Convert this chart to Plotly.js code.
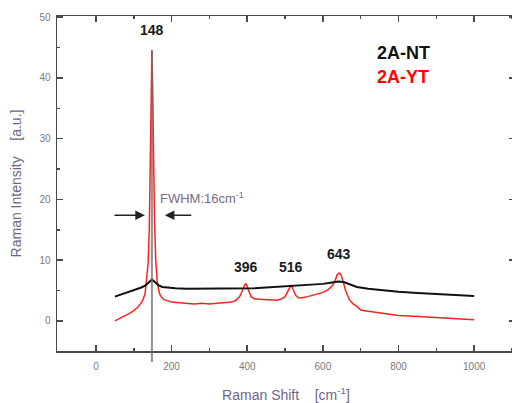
<!DOCTYPE html>
<html>
<head>
<meta charset="utf-8">
<script src="https://cdn.plot.ly/plotly-3.0.1.min.js"></script>
<style>
html,body{margin:0;padding:0;width:512px;height:403px;overflow:hidden;background:#fff;}
#chart{width:522px;height:403px;}
</style>
</head>
<body>
<div id="chart"></div>
<script>
// 2A-NT (black)
const ntShift = [50,60,70,80,90,100,110,120,130,138,144,148,152,158,165,175,190,210,240,270,300,330,360,390,420,450,480,510,540,570,600,620,640,655,670,690,720,760,800,850,900,950,1000];
const ntIntensity = [4.0,4.2,4.4,4.6,4.8,5.0,5.2,5.5,5.8,6.2,6.6,6.8,6.6,6.2,5.9,5.6,5.5,5.4,5.3,5.3,5.3,5.3,5.4,5.4,5.4,5.5,5.6,5.7,5.8,5.9,6.1,6.3,6.5,6.4,6.0,5.6,5.3,5.0,4.8,4.6,4.4,4.2,4.1];
// 2A-YT (red)
const ytShift = [50,60,70,80,90,100,110,120,125,130,134,138,141,144,146,148,150,152,155,158,162,166,170,175,180,190,200,220,240,260,280,300,320,340,360,370,380,386,390,394,396,398,402,406,410,420,440,460,480,490,500,506,510,514,516,518,522,528,535,545,560,580,600,615,625,632,638,643,648,653,660,670,680,690,700,720,740,760,780,800,830,860,900,940,970,1000];
const ytIntensity = [0,0.3,0.6,1.0,1.3,1.7,2.2,3.0,3.6,4.5,6.5,9.5,15,26,37,44.5,38,27,16,10,6.5,5,4.2,3.8,3.5,3.3,3.1,3.0,2.9,2.8,2.9,2.8,2.9,3.0,3.1,3.4,4.0,4.8,5.5,6.0,6.1,6.0,5.3,4.6,4.0,3.6,3.5,3.5,3.4,3.6,4.0,4.7,5.3,5.8,5.9,5.7,5.0,4.2,3.8,3.8,4.0,4.3,4.7,5.2,5.8,6.6,7.6,7.9,7.6,6.6,5.0,3.5,2.8,2.4,1.8,1.6,1.4,1.2,1.0,0.9,0.8,0.7,0.5,0.4,0.3,0.2];
// peak labels
const peakPos = [148,396,516,643];
const peakText = ["148","396","516","643"];
const peakLabelY = [47.9,8.9,8.9,11.0];
const seriesNames = ["2A-NT","2A-YT"];

const axisCol = '#4a4a4a';
const fam = 'Liberation Sans, Arial, sans-serif';
const tickFont = {family:fam, size:10, color:'#7a7a7a'};
const titleFont = {family:fam, size:14, color:'#6e6688'};

const traces = [
  {x:ytShift, y:ytIntensity, type:'scatter', mode:'lines', name:seriesNames[1],
   line:{color:'#ff2020', width:1.5}, showlegend:false},
  {x:ntShift, y:ntIntensity, type:'scatter', mode:'lines', name:seriesNames[0],
   line:{color:'#111', width:2}, showlegend:false}
];

const annotations = [];
peakPos.forEach((p,i)=>{
  annotations.push({x:p, y:peakLabelY[i], xref:'x', yref:'y', text:'<b>'+peakText[i]+'</b>',
    showarrow:false, font:{family:fam, size:14, color:'#1a1a1a'}});
});
annotations.push({x:(375-96)/0.3783, y:(321-52.7)/6.08, xref:'x', yref:'y', text:'<b>'+seriesNames[0]+'</b>', showarrow:false,
  xanchor:'left', font:{family:fam, size:18, color:'#111'}});
annotations.push({x:(375-96)/0.3783, y:(321-77.3)/6.08, xref:'x', yref:'y', text:'<b>'+seriesNames[1]+'</b>', showarrow:false,
  xanchor:'left', font:{family:fam, size:18, color:'#ff0000'}});
annotations.push({x:165, y:(321-198)/6.08, xref:'x', yref:'y', xanchor:'left', showarrow:false,
  text:'FWHM:16cm<sup>-1</sup>', font:{family:fam, size:13, color:'#7a6a8a'}});
// FWHM arrows
annotations.push({x:129.5, y:17.4, ax:45, ay:17.4, xref:'x', yref:'y', axref:'x', ayref:'y',
  showarrow:true, arrowhead:2, arrowsize:1.2, arrowwidth:1.6, arrowcolor:'#222', text:''});
annotations.push({x:182, y:17.4, ax:256, ay:17.4, xref:'x', yref:'y', axref:'x', ayref:'y',
  showarrow:true, arrowhead:2, arrowsize:1.2, arrowwidth:1.6, arrowcolor:'#222', text:''});

const layout = {
  width:522, height:403,
  margin:{l:57, r:7, t:16, b:52},
  paper_bgcolor:'#fff', plot_bgcolor:'#fff',
  font:{family:fam},
  xaxis:{range:[-103,1108], tickvals:[0,200,400,600,800,1000], ticks:'inside', ticklen:6, tickwidth:1.5,
    tickcolor:axisCol, showline:true, linecolor:axisCol, linewidth:1.5, mirror:'allticks',
    showgrid:false, zeroline:false, tickfont:tickFont, ticklabelstandoff:5,
    minor:{tickvals:[100,300,500,700,900,1100], ticks:'inside', ticklen:3, tickcolor:axisCol, showgrid:false},
    title:{text:'Raman Shift    [cm<sup>-1</sup>]', font:titleFont, standoff:19}},
  yaxis:{range:[-4.95,50.2], tickvals:[0,10,20,30,40,50], ticks:'inside', ticklen:6, tickwidth:1.5,
    tickcolor:axisCol, showline:true, linecolor:axisCol, linewidth:1.5, mirror:'allticks',
    showgrid:false, zeroline:false, tickfont:tickFont, ticklabelstandoff:3,
    minor:{tickvals:[5,15,25,35,45], ticks:'inside', ticklen:3, tickcolor:axisCol, showgrid:false},
    title:{text:'Raman Intensity    [a.u.]', font:titleFont, standoff:14}},
  shapes:[{type:'line', xref:'x', yref:'paper', x0:148, x1:148, y0:-0.033, y1:0.8985,
    line:{color:'rgba(110,110,110,0.75)', width:2}, layer:'above'}],
  annotations:annotations,
  showlegend:false
};
Plotly.newPlot('chart', traces, layout, {displayModeBar:false, staticPlot:true});
</script>
</body>
</html>
